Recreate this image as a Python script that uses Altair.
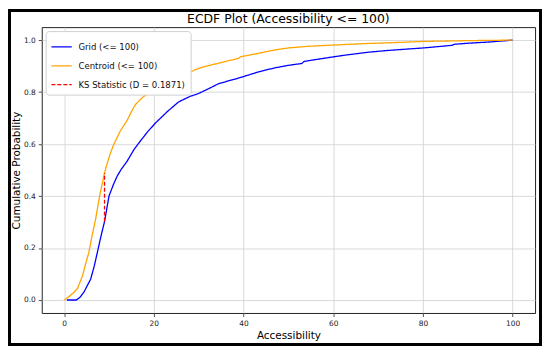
import altair as alt
import pandas as pd

# Grid (<= 100) ECDF
grid_x = [0.6, 2.7, 3.5, 4.4, 5.0, 5.9, 6.7, 7.4, 8.2, 9.0, 10.0, 11.0, 11.8, 12.8, 14.0,
          15.5, 16.6, 18.5, 20.3, 23.0, 25.5, 28.0, 29.9, 32.2, 34.4, 37.0, 39.5, 43.0,
          46.9, 50.0, 53.0, 53.5, 56.0, 60.2, 63.0, 67.6, 72.0, 76.0, 80.2, 84.0, 86.5,
          87.0, 90.0, 95.0, 100.0]
grid_y = [0.0, 0.0, 0.01, 0.03, 0.05, 0.08, 0.13, 0.183, 0.245, 0.302, 0.40, 0.445, 0.476,
          0.505, 0.533, 0.577, 0.603, 0.645, 0.68, 0.725, 0.762, 0.783, 0.794, 0.813, 0.832,
          0.845, 0.857, 0.876, 0.893, 0.903, 0.91, 0.918, 0.925, 0.936, 0.943, 0.953, 0.96,
          0.965, 0.97, 0.976, 0.98, 0.984, 0.988, 0.993, 1.0]

# Centroid (<= 100) ECDF
cen_x = [0.0, 1.0, 2.2, 3.0, 4.1, 4.8, 5.5, 6.2, 7.0, 7.9, 9.0, 9.5, 10.3, 11.1, 12.5,
         14.0, 15.0, 15.9, 17.0, 18.1, 20.0, 22.0, 24.0, 25.5, 27.7, 29.0, 31.0, 34.4,
         37.0, 38.9, 39.3, 43.0, 46.9, 50.0, 54.3, 60.0, 67.6, 73.0, 80.2, 90.0, 100.0]
cen_y = [0.0, 0.012, 0.03, 0.045, 0.094, 0.14, 0.183, 0.245, 0.31, 0.40, 0.489, 0.52,
         0.565, 0.60, 0.65, 0.69, 0.725, 0.752, 0.772, 0.788, 0.803, 0.82, 0.845, 0.857,
         0.872, 0.885, 0.897, 0.911, 0.922, 0.93, 0.936, 0.948, 0.962, 0.97, 0.976, 0.981,
         0.987, 0.99, 0.995, 0.998, 1.0]

# KS statistic segment
ks_x = [9.0, 9.0]
ks_y = [0.302, 0.489]

series_names = ["Grid (<= 100)", "Centroid (<= 100)", "KS Statistic (D = 0.1871)"]
series_colors = ["#0000ff", "#ffa500", "#ff0000"]
x_ticks = [0, 20, 40, 60, 80, 100]
y_ticks = [0.0, 0.2, 0.4, 0.6, 0.8, 1.0]
title_text = "ECDF Plot (Accessibility <= 100)"

rows = []
for i, (a, b) in enumerate(zip(grid_x, grid_y)):
    rows.append({"x": a, "y": b, "series": series_names[0], "o": i})
for i, (a, b) in enumerate(zip(cen_x, cen_y)):
    rows.append({"x": a, "y": b, "series": series_names[1], "o": i})
for i, (a, b) in enumerate(zip(ks_x, ks_y)):
    rows.append({"x": a, "y": b, "series": series_names[2], "o": i})
df = pd.DataFrame(rows)

FONT = "DejaVu Sans"

lines = alt.Chart(df).mark_line(strokeWidth=1.3, clip=True).encode(
    x=alt.X("x:Q", scale=alt.Scale(domain=[-5, 105], nice=False, zero=False),
            axis=alt.Axis(values=x_ticks, format="d", title="Accessibility")),
    y=alt.Y("y:Q", scale=alt.Scale(domain=[-0.05, 1.05], nice=False, zero=False),
            axis=alt.Axis(values=y_ticks, format=".1f", title="Cumulative Probability")),
    color=alt.Color("series:N", scale=alt.Scale(domain=series_names, range=series_colors),
                    sort=series_names,
                    legend=alt.Legend(title=None, orient="none", legendX=4, legendY=4,
                                      symbolType="stroke", symbolSize=420,
                                      symbolStrokeWidth=1.6, labelFontSize=8.6,
                                      labelFont=FONT, labelColor="#111",
                                      fillColor="white", strokeColor="#d0d0d0",
                                      cornerRadius=3, padding=5, rowPadding=3,
                                      labelOffset=6)),
    strokeDash=alt.StrokeDash("series:N",
                              scale=alt.Scale(domain=series_names,
                                              range=[[1, 0], [1, 0], [4, 2]]),
                              sort=series_names, legend=None),
    strokeWidth=alt.StrokeWidth("series:N",
                                scale=alt.Scale(domain=series_names, range=[1.3, 1.3, 2.0]),
                                legend=None),
    order="o:Q",
)

title_mark = alt.Chart(pd.DataFrame({"t": [title_text]})).mark_text(
    font=FONT, fontSize=12.5, color="black", align="center", baseline="alphabetic",
    clip=False
).encode(text="t:N", x=alt.value(248.5), y=alt.value(-4))

border = alt.Chart(df).mark_rect(fill=None, stroke="black", strokeWidth=2.5, clip=False).encode(
    x=alt.value(-32.5), x2=alt.value(502.5), y=alt.value(-16.5), y2=alt.value(319.5)
)

chart = alt.layer(lines, title_mark, border).properties(
    width=497, height=288,
    autosize=alt.AutoSizeParams(type="none"),
    padding={"left": 34, "top": 18, "right": 7, "bottom": 32},
).configure_view(
    stroke="#222", strokeWidth=1
).configure_axis(
    domain=False, grid=True, gridColor="#d0d0d0", gridWidth=0.8,
    tickColor="#222", tickSize=3.5, tickWidth=0.8,
    labelFont=FONT, labelFontSize=7.5, labelColor="#222", labelPadding=3,
    titleFont=FONT, titleFontSize=10.5, titleFontWeight="normal", titleColor="black"
).configure_axisX(titlePadding=4).configure_axisY(titlePadding=2)

chart.save("out.html", embed_options={"renderer": "svg", "actions": False})
